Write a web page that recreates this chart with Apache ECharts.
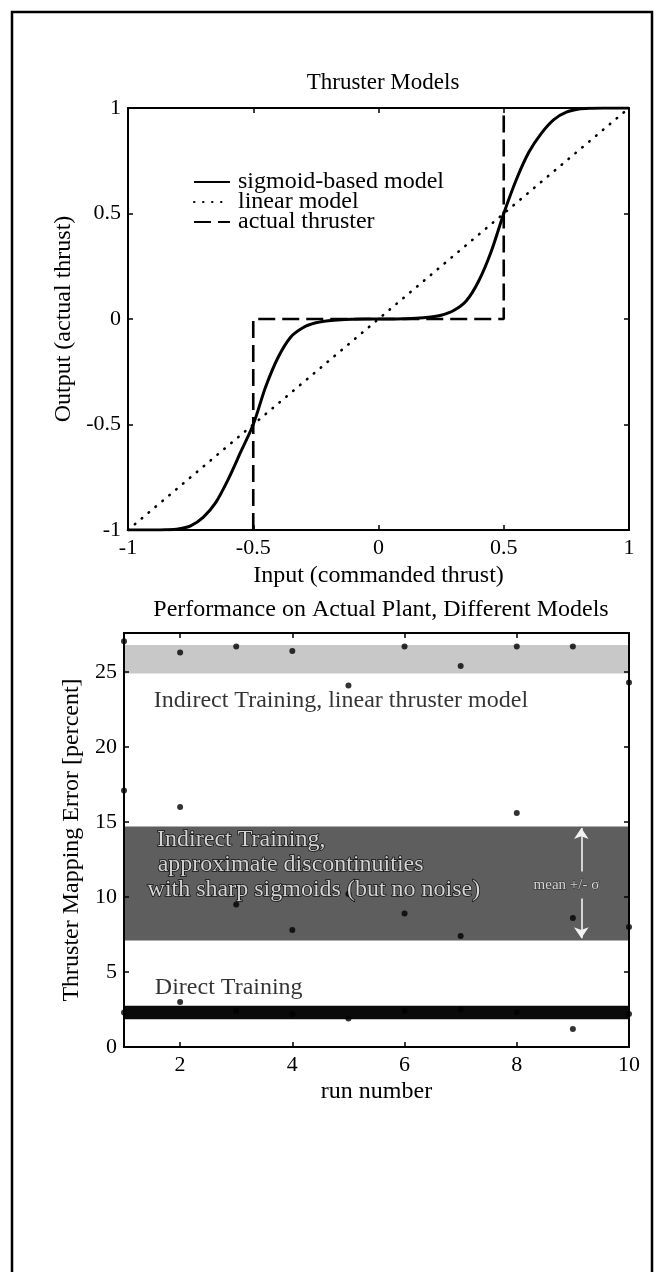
<!DOCTYPE html>
<html>
<head>
<meta charset="UTF-8">
<title>Thruster Models</title>
<style>
    html, body { margin: 0; padding: 0; background: #fff; }
    #chart { width: 657px; height: 1272px; }
</style>
</head>
<body>
<div id="chart"></div>
<script src="https://cdn.jsdelivr.net/npm/echarts@6/dist/echarts.min.js"></script>
<script>
    // --- top panel: thruster models ---
    var inputX = [-1, -0.95, -0.9, -0.85, -0.8, -0.75, -0.7, -0.65, -0.6, -0.55, -0.5, -0.45, -0.4, -0.35, -0.3, -0.25, -0.2, -0.15, -0.1, -0.05,
        0, 0.05, 0.1, 0.15, 0.2, 0.25, 0.3, 0.35, 0.4, 0.45, 0.5, 0.55, 0.6, 0.65, 0.7, 0.75, 0.8, 0.85, 0.9, 0.95, 1];
    var sigmoidY = [-1, -1, -1, -0.999, -0.995, -0.98, -0.94, -0.87, -0.76, -0.63, -0.5, -0.32, -0.18, -0.085, -0.04, -0.018, -0.008, -0.003, -0.001, 0,
        0, 0, 0.001, 0.003, 0.008, 0.018, 0.04, 0.085, 0.18, 0.32, 0.5, 0.66, 0.79, 0.88, 0.945, 0.98, 0.995, 0.999, 1, 1, 1];
    var linearX = [-1, 1];
    var linearY = [-1, 1];
    var thrusterX = [-0.5, -0.5, 0.5, 0.5];
    var thrusterY = [-1, 0, 0, 1];

    // --- bottom panel: mapping error per run ---
    var runs = [1, 2, 3, 4, 5, 6, 7, 8, 9, 10];
    var linearErr = [27.05, 26.3, 26.7, 26.4, 24.1, 26.7, 25.4, 26.7, 26.7, 24.3];
    var sharpErr = [17.1, 16.0, 9.5, 7.8, 10.2, 8.9, 7.4, 15.6, 8.6, 8.0];
    var directErr = [2.3, 3.0, 2.4, 2.2, 1.9, 2.4, 2.5, 2.3, 1.2, 2.2];
    // mean +/- sigma bands, [low, high]
    var linearBand = [24.9, 26.8];
    var sharpBand = [7.1, 14.7];
    var directBand = [1.85, 2.75];

    var font = 'Liberation Serif';

    function zip(xs, ys) {
        return xs.map(function (x, i) { return [x, ys[i]]; });
    }

    // box axes: the mirrored ones only carry inward ticks
    function boxAxis(extra, mirror) {
        var a = {
            type: 'value',
            z: 10,
            axisLine: { show: true, onZero: false, lineStyle: { color: '#000', width: 2 } },
            axisTick: { show: true, inside: true, length: 5, lineStyle: { color: '#000', width: 1.5 } },
            axisLabel: { show: !mirror, color: '#000', fontFamily: font, fontSize: 22, margin: 7 },
            splitLine: { show: false },
            nameTextStyle: { color: '#000', fontFamily: font, fontSize: 24 }
        };
        for (var k in extra) {
            if (typeof extra[k] === 'object' && a[k] && !Array.isArray(extra[k])) {
                a[k] = Object.assign({}, a[k], extra[k]);
            } else {
                a[k] = extra[k];
            }
        }
        return a;
    }

    var darkText = { color: '#fff', textBorderColor: '#000', textBorderWidth: 1.6 };

    var chart = echarts.init(document.getElementById('chart'));

    var option = {
        backgroundColor: '#fff',
        animation: false,
        textStyle: { fontFamily: font, color: '#000' },
        title: [
            { text: 'Thruster Models', left: 378, top: 66, textAlign: 'center',
                textStyle: { fontFamily: font, fontSize: 23, fontWeight: 'normal', color: '#000' } },
            { text: 'Performance on Actual Plant, Different Models', left: 376, top: 593, textAlign: 'center',
                textStyle: { fontFamily: font, fontSize: 24, fontWeight: 'normal', color: '#000' } }
        ],
        graphic: [
            { type: 'rect', shape: { x: 12, y: 12, width: 640, height: 1290 },
                style: { fill: 'none', stroke: '#000', lineWidth: 2.5 }, z: 100 }
        ],
        legend: {
            orient: 'vertical',
            left: 188,
            top: 165,
            itemWidth: 36,
            itemHeight: 12,
            itemGap: -4,
            itemStyle: { opacity: 0 },
            data: ['sigmoid-based model', 'linear model', 'actual thruster'],
            textStyle: { fontFamily: font, fontSize: 24, color: '#000', padding: [0, 0, 0, 3] }
        },
        grid: [
            { left: 128, top: 108, width: 501, height: 422 },
            { left: 124, top: 633, width: 505, height: 414 }
        ],
        xAxis: [
            boxAxis({ gridIndex: 0, min: -1, max: 1, interval: 0.5, position: 'bottom',
                name: 'Input (commanded thrust)', nameLocation: 'middle', nameGap: 34 }),
            boxAxis({ gridIndex: 0, min: -1, max: 1, interval: 0.5, position: 'top' }, true),
            boxAxis({ gridIndex: 1, min: 1, max: 10, position: 'bottom',
                axisLabel: { customValues: [2, 4, 6, 8, 10] },
                axisTick: { customValues: [2, 4, 6, 8, 10] },
                name: 'run number', nameLocation: 'middle', nameGap: 33 }),
            boxAxis({ gridIndex: 1, min: 1, max: 10, position: 'top',
                axisTick: { customValues: [2, 4, 6, 8, 10] } }, true)
        ],
        yAxis: [
            boxAxis({ gridIndex: 0, min: -1, max: 1, interval: 0.5, position: 'left',
                name: 'Output (actual thrust)', nameLocation: 'middle', nameGap: 50 }),
            boxAxis({ gridIndex: 0, min: -1, max: 1, interval: 0.5, position: 'right' }, true),
            boxAxis({ gridIndex: 1, min: 0, max: 27.6, position: 'left',
                axisLabel: { customValues: [0, 5, 10, 15, 20, 25] },
                axisTick: { customValues: [0, 5, 10, 15, 20, 25] },
                name: 'Thruster Mapping Error [percent]', nameLocation: 'middle', nameGap: 37 }),
            boxAxis({ gridIndex: 1, min: 0, max: 27.6, position: 'right',
                axisTick: { customValues: [0, 5, 10, 15, 20, 25] } }, true)
        ],
        series: [
            {
                name: 'sigmoid-based model', type: 'line', xAxisIndex: 0, yAxisIndex: 0,
                data: zip(inputX, sigmoidY), symbol: 'none', smooth: 0.3,
                lineStyle: { color: '#000', width: 3 }, itemStyle: { color: '#000' }, z: 4
            },
            {
                name: 'linear model', type: 'line', xAxisIndex: 0, yAxisIndex: 0,
                data: zip(linearX, linearY), symbol: 'none',
                lineStyle: { color: '#000', width: 2.6, type: [0.5, 8.5], cap: 'round' },
                itemStyle: { color: '#000' }, z: 3
            },
            {
                name: 'actual thruster', type: 'line', xAxisIndex: 0, yAxisIndex: 0,
                data: zip(thrusterX, thrusterY), symbol: 'none',
                lineStyle: { color: '#000', width: 2.6, type: [17, 7] },
                itemStyle: { color: '#000' }, z: 3
            },
            {
                name: 'linear err', type: 'scatter', xAxisIndex: 2, yAxisIndex: 2,
                data: zip(runs, linearErr), symbolSize: 6, itemStyle: { color: '#000' }, z: 6,
                markArea: {
                    silent: true,
                    itemStyle: { color: '#c8c8c8' },
                    data: [[{ yAxis: linearBand[0] }, { yAxis: linearBand[1] }]]
                }
            },
            {
                name: 'sharp err', type: 'scatter', xAxisIndex: 2, yAxisIndex: 2,
                data: zip(runs, sharpErr), symbolSize: 6, itemStyle: { color: '#000' }, z: 6,
                markArea: {
                    silent: true,
                    itemStyle: { color: '#5e5e5e' },
                    data: [[{ yAxis: sharpBand[0] }, { yAxis: sharpBand[1] }]]
                },
                markLine: {
                    silent: true,
                    symbol: ['none', 'arrow'],
                    symbolSize: 11,
                    lineStyle: { color: '#f2f2f2', width: 1.6, type: 'solid' },
                    label: { show: false },
                    data: [
                        [{ coord: [9.15, 11.7] }, { coord: [9.15, 14.6] }],
                        [{ coord: [9.15, 9.9] }, { coord: [9.15, 7.25] }]
                    ]
                }
            },
            {
                name: 'direct err', type: 'scatter', xAxisIndex: 2, yAxisIndex: 2,
                data: zip(runs, directErr), symbolSize: 6, itemStyle: { color: '#000' }, z: 6,
                markArea: {
                    silent: true,
                    itemStyle: { color: '#0a0a0a' },
                    data: [[{ yAxis: directBand[0] }, { yAxis: directBand[1] }]]
                }
            },
            {
                name: 'notes', type: 'scatter', xAxisIndex: 2, yAxisIndex: 2,
                symbolSize: 0, silent: true, z: 7,
                label: { show: true, position: 'right', distance: 0, formatter: '{b}',
                    fontFamily: font, fontSize: 24, color: '#000' },
                data: [
                    { name: 'Indirect Training, linear thruster model', value: [1.53, 23.1] },
                    { name: 'Direct Training', value: [1.55, 3.95] },
                    { name: 'Indirect Training,', value: [1.59, 13.8], label: darkText },
                    { name: 'approximate discontinuities', value: [1.6, 12.15], label: darkText },
                    { name: 'with sharp sigmoids (but no noise)', value: [1.42, 10.5], label: darkText },
                    { name: 'mean +/- σ', value: [8.3, 10.8],
                        label: { color: '#fff', fontSize: 15, textBorderColor: '#222', textBorderWidth: 1 } }
                ]
            }
        ]
    };

    chart.setOption(option);
</script>
</body>
</html>
